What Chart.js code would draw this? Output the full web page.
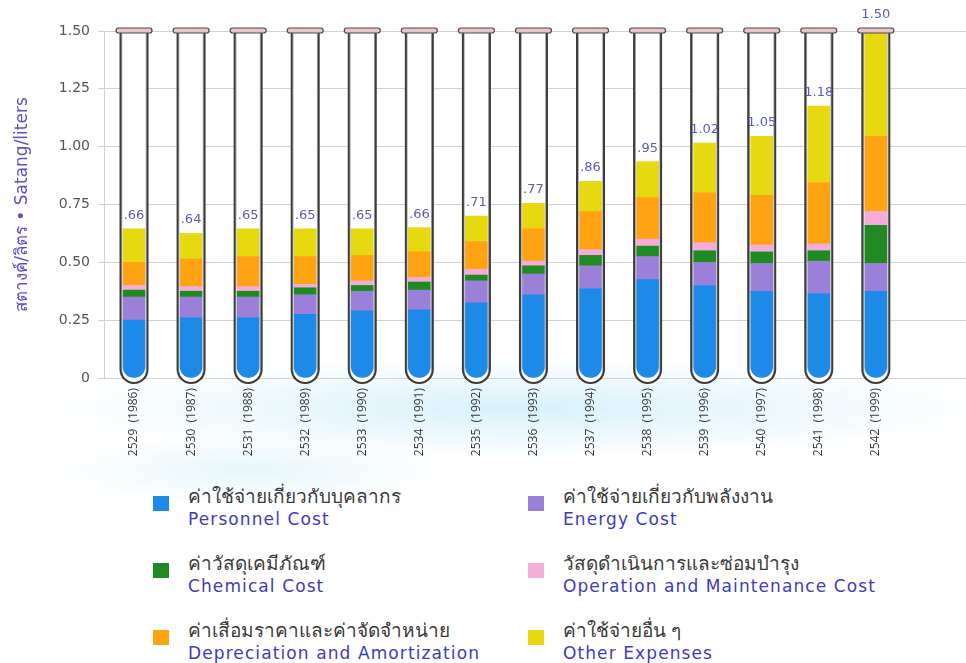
<!DOCTYPE html>
<html><head><meta charset="utf-8">
<script src="https://cdn.jsdelivr.net/npm/chart.js@4"></script>
<style>
html,body{margin:0;padding:0;background:#fff;}
#wrap{position:relative;width:966px;height:663px;overflow:hidden;background:#fff;}
#bg{position:absolute;left:0;top:0;width:966px;height:663px;
 background:
  radial-gradient(ellipse 470px 50px at 520px 408px, rgba(210,240,250,0.9), rgba(255,255,255,0)),
  radial-gradient(ellipse 200px 35px at 250px 470px, rgba(220,243,250,0.7), rgba(255,255,255,0));}
#cw{position:absolute;left:0;top:0;width:966px;height:470px;}
.item{position:absolute;width:420px;height:60px;}
.sw{position:absolute;left:0;top:7px;width:16px;height:15px;}
.th{position:absolute;left:35px;top:-8px;font-family:"Noto Sans",sans-serif;font-size:19px;color:#3a3a3a;white-space:nowrap;}
.en{position:absolute;left:35px;top:20px;font-family:"DejaVu Sans",sans-serif;font-size:17px;letter-spacing:1.1px;color:#3c3cc0;white-space:nowrap;}
</style></head><body>
<div id="wrap">
<div id="bg"></div>
<div id="cw"><canvas id="c"></canvas></div>
<div id="legend"></div>
</div>
<script>
const years = ['2529  (1986)','2530  (1987)','2531  (1988)','2532  (1989)','2533  (1990)','2534  (1991)','2535  (1992)','2536  (1993)','2537  (1994)','2538  (1995)','2539  (1996)','2540  (1997)','2541  (1998)','2542  (1999)'];
const personnel    = [0.25, 0.26, 0.26, 0.275, 0.29, 0.295, 0.325, 0.36, 0.385, 0.425, 0.40, 0.375, 0.365, 0.375];
const energy       = [0.10, 0.09, 0.09, 0.085, 0.085, 0.085, 0.095, 0.09, 0.10, 0.10, 0.10, 0.12, 0.14, 0.12];
const chemical     = [0.03, 0.025, 0.025, 0.03, 0.025, 0.035, 0.025, 0.035, 0.045, 0.045, 0.05, 0.05, 0.045, 0.165];
const operation    = [0.02, 0.02, 0.02, 0.015, 0.02, 0.02, 0.025, 0.02, 0.025, 0.03, 0.035, 0.03, 0.03, 0.06];
const depreciation = [0.10, 0.12, 0.13, 0.12, 0.11, 0.11, 0.12, 0.14, 0.165, 0.18, 0.215, 0.215, 0.265, 0.325];
const other        = [0.145, 0.11, 0.12, 0.12, 0.115, 0.105, 0.11, 0.11, 0.13, 0.155, 0.215, 0.255, 0.33, 0.455];
const totalLabels  = ['.66','.64','.65','.65','.65','.66','.71','.77','.86','.95','1.02','1.05','1.18','1.50'];
const yTicks       = [0, 0.25, 0.5, 0.75, 1.0, 1.25, 1.5];
const yTickLabels  = ['0','0.25','0.50','0.75','1.00','1.25','1.50'];
const seriesThai = ['ค่าใช้จ่ายเกี่ยวกับบุคลากร','ค่าใช้จ่ายเกี่ยวกับพลังงาน','ค่าวัสดุเคมีภัณฑ์','วัสดุดำเนินการและซ่อมบำรุง','ค่าเสื่อมราคาและค่าจัดจำหน่าย','ค่าใช้จ่ายอื่น ๆ'];
const seriesEng  = ['Personnel Cost','Energy Cost','Chemical Cost','Operation and Maintenance Cost','Depreciation and Amortization','Other Expenses'];
const seriesColors = ['#1e8ae8','#9a80d8','#1f8a22','#f5acd8','#ffa312','#e6d90f'];
const seriesData = [personnel, energy, chemical, operation, depreciation, other];

const tubeR = 13.5;
function tubePath(ctx, cx, top, base, r){
  const cy = base + 5 - r;
  ctx.beginPath();
  ctx.moveTo(cx - r, top);
  ctx.lineTo(cx - r, cy);
  ctx.arc(cx, cy, r, Math.PI, 0, true);
  ctx.lineTo(cx + r, top);
}
const tubePlugin = {
  id: 'tubes',
  beforeDatasetsDraw(chart){
    const {ctx, scales:{x, y}} = chart;
    const top = y.getPixelForValue(1.5), base = y.getPixelForValue(0);
    ctx.save();
    years.forEach((_, i) => {
      const cx = x.getPixelForValue(i);
      tubePath(ctx, cx, top, base, tubeR);
      ctx.fillStyle = '#ffffff';
      ctx.fill();
    });
    ctx.restore();
  },
  afterDatasetsDraw(chart){
    const {ctx, scales:{x, y}} = chart;
    const top = y.getPixelForValue(1.5), base = y.getPixelForValue(0);
    const lastMeta = chart.getDatasetMeta(seriesData.length - 1);
    ctx.save();
    years.forEach((_, i) => {
      const cx = x.getPixelForValue(i);
      tubePath(ctx, cx, top, base, tubeR - 1.3);
      ctx.strokeStyle = '#a8a8a8'; ctx.lineWidth = 1; ctx.stroke();
      tubePath(ctx, cx, top, base, tubeR);
      ctx.strokeStyle = '#3c3c3c'; ctx.lineWidth = 2; ctx.stroke();
      ctx.beginPath();
      ctx.roundRect(cx - 18, top - 3, 36, 5, 2.5);
      ctx.fillStyle = '#e8c6c8'; ctx.fill();
      ctx.strokeStyle = '#4a4a4a'; ctx.lineWidth = 1.2; ctx.stroke();
      const barTop = lastMeta.data[i].y;
      ctx.font = '13px "DejaVu Sans", sans-serif';
      ctx.fillStyle = '#5a5ac6';
      ctx.textAlign = 'center';
      ctx.textBaseline = 'bottom';
      const ly = barTop <= top + 3 ? top - 10 : barTop - 7;
      ctx.fillText(totalLabels[i], cx, ly);
    });
    ctx.restore();
  }
};

new Chart(document.getElementById('c'), {
  type: 'bar',
  data: {
    datasets: seriesData.map((arr, k) => ({
      label: seriesEng[k],
      data: arr.map((v, i) => ({x: i, y: v})),
      backgroundColor: seriesColors[k],
      borderWidth: 0,
      borderSkipped: k === 0 ? 'end' : 'start',
      borderRadius: k === 0 ? {topLeft: 0, topRight: 0, bottomLeft: 11, bottomRight: 11} : 0
    }))
  },
  options: {
    responsive: true,
    maintainAspectRatio: false,
    animation: false,
    layout: {padding: {top: 31, right: 0, left: 0, bottom: 0}},
    datasets: {bar: {barThickness: 22}},
    plugins: {legend: {display: false}, tooltip: {enabled: false}},
    scales: {
      x: {
        type: 'linear', stacked: true, offset: false, min: -0.526, max: 14.58,
        grid: {display: false, drawTicks: false},
        border: {display: false},
        afterBuildTicks: s => { s.ticks = years.map((_, i) => ({value: i})); },
        ticks: {autoSkip: false, maxRotation: 90, minRotation: 90, padding: 10,
          color: '#3a3a3a', font: {family: 'Open Sans', size: 12},
          callback: v => years[v]},
        afterFit: s => { s.height = 92; }
      },
      y: {
        stacked: true, min: 0, max: 1.5,
        afterBuildTicks: s => { s.ticks = yTicks.map(v => ({value: v})); },
        ticks: {color: '#555', font: {family: 'DejaVu Sans', size: 14}, padding: 8,
          callback: (v, i) => yTickLabels[i]},
        grid: {color: '#d2d2d2', tickLength: 6, lineWidth: 1},
        border: {color: '#d2d2d2'},
        title: {display: true, text: 'สตางค์/ลิตร • Satang/liters', color: '#5b52c4',
          font: {family: 'DejaVu Sans', size: 17}, padding: {top: 12, bottom: 0}},
        afterFit: s => { s.width = 104; }
      }
    }
  },
  plugins: [tubePlugin]
});

// legend: two columns, three rows
const leg = document.getElementById('legend');
seriesData.forEach((_, k) => {
  const col = k % 2, row = Math.floor(k / 2);
  const d = document.createElement('div');
  d.className = 'item';
  d.style.left = (col === 0 ? 153 : 528) + 'px';
  d.style.top = (489 + row * 67) + 'px';
  d.innerHTML = '<div class="sw" style="background:' + seriesColors[k] + '"></div>' +
    '<div class="th">' + seriesThai[k] + '</div>' +
    '<div class="en">' + seriesEng[k] + '</div>';
  leg.appendChild(d);
});
</script>
</body></html>
